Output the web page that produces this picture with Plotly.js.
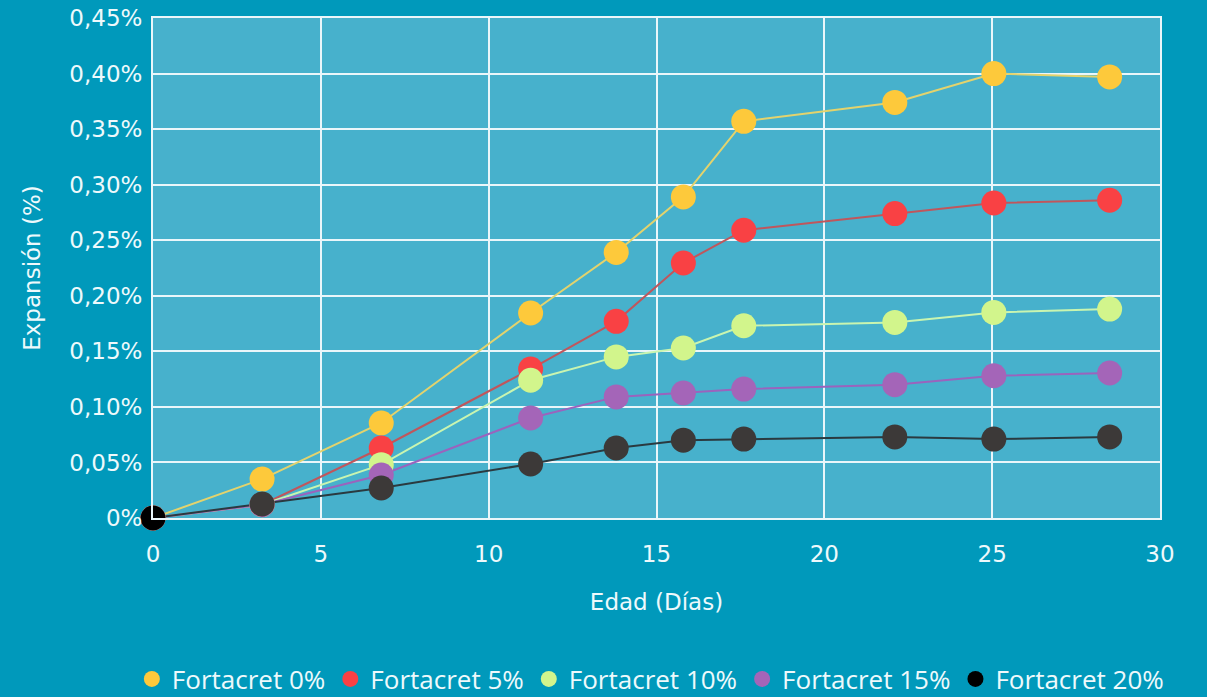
<!DOCTYPE html>
<html><head><meta charset="utf-8">
<script src="https://cdn.plot.ly/plotly-3.0.1.min.js"></script>
<style>html,body{margin:0;padding:0;background:#0099bb;}#chart{width:1207px;height:697px;}</style>
</head><body><div id="chart"></div>
<script>
const dias = [0, 3.25, 6.8, 11.25, 13.8, 15.8, 17.6, 22.1, 25.05, 28.5];
const fortacret0  = [0, 0.035, 0.0855, 0.1845, 0.239, 0.289, 0.357, 0.374, 0.400, 0.397];
const fortacret5  = [0, 0.012, 0.063, 0.134, 0.177, 0.2295, 0.259, 0.274, 0.2835, 0.286];
const fortacret10 = [0, 0.012, 0.048, 0.124, 0.145, 0.153, 0.173, 0.176, 0.185, 0.188];
const fortacret15 = [0, 0.012, 0.0387, 0.090, 0.109, 0.1125, 0.116, 0.120, 0.128, 0.1305];
const fortacret20 = [0, 0.0126, 0.027, 0.0486, 0.063, 0.070, 0.071, 0.073, 0.071, 0.073];
const seriesNames = ['Fortacret 0%', 'Fortacret 5%', 'Fortacret 10%', 'Fortacret 15%', 'Fortacret 20%'];
const yTickVals = [0, 0.05, 0.10, 0.15, 0.20, 0.25, 0.30, 0.35, 0.40, 0.45];
const yTickText = ['0%', '0,05%', '0,10%', '0,15%', '0,20%', '0,25%', '0,30%', '0,35%', '0,40%', '0,45%'];
const xTickVals = [0, 5, 10, 15, 20, 25, 30];

const markerColors = ['#fdc93b', '#f94144', '#d2f58c', '#a465b8', '#3c3938'];
const lineColors = ['#e3d36d', '#c0565c', '#c9f5b0', '#9b63bd', '#2a3a40'];
const values = [fortacret0, fortacret5, fortacret10, fortacret15, fortacret20];

const lineTraces = values.map((v, i) => ({
  x: dias, y: v, name: seriesNames[i], type: 'scatter', mode: 'lines',
  line: {color: lineColors[i], width: 2}, showlegend: false, hoverinfo: 'skip'
}));
const markerTraces = values.map((v, i) => {
  let mc = markerColors[i];
  if (i === 4) mc = v.map((_, j) => j === 0 ? '#000000' : markerColors[4]);
  return {
    x: dias, y: v, name: seriesNames[i], type: 'scatter', mode: 'markers', cliponaxis: false,
    marker: {color: mc, size: 25, line: {width: 0}}
  };
});

const tickFont = "'DejaVu Sans', sans-serif";
const layout = {
  width: 1207, height: 697,
  paper_bgcolor: '#0099bb', plot_bgcolor: '#47b1cc',
  margin: {l: 153, r: 47, t: 18, b: 179, autoexpand: false},
  font: {family: tickFont, color: '#eef9fc', size: 22},
  xaxis: {
    range: [0, 30], tickvals: xTickVals, showgrid: true, gridcolor: '#eaf6fa', gridwidth: 2,
    zeroline: false, showline: true, linecolor: '#eaf6fa', linewidth: 2, mirror: true,
    tickfont: {family: tickFont, size: 23, color: '#eef9fc'}, ticks: 'outside', ticklen: 14, tickcolor: 'rgba(0,0,0,0)',
    title: {text: 'Edad (Días)', font: {family: tickFont, size: 23, color: '#eef9fc'}, standoff: 28}
  },
  yaxis: {
    range: [0, 0.45], tickvals: yTickVals, ticktext: yTickText, showgrid: true, gridcolor: '#eaf6fa', gridwidth: 2,
    zeroline: false, showline: true, linecolor: '#eaf6fa', linewidth: 2, mirror: true,
    tickfont: {family: tickFont, size: 23, color: '#eef9fc'}, ticks: 'outside', ticklen: 4, tickcolor: 'rgba(0,0,0,0)',
    title: {text: 'Expansión (%)', font: {family: tickFont, size: 23, color: '#eef9fc'}, standoff: 22}
  },
  showlegend: true,
  legend: {orientation: 'h', x: -0.021, xref: 'paper', xanchor: 'left', y: -0.322, yref: 'paper', yanchor: 'middle',
    font: {family: "'Open Sans', sans-serif", size: 26, color: '#eef9fc'}, itemsizing: 'trace',
    bgcolor: 'rgba(0,0,0,0)', traceorder: 'normal', itemwidth: 30}
};
Plotly.newPlot('chart', lineTraces.concat(markerTraces), layout, {displayModeBar: false, staticPlot: true});
</script></body></html>
